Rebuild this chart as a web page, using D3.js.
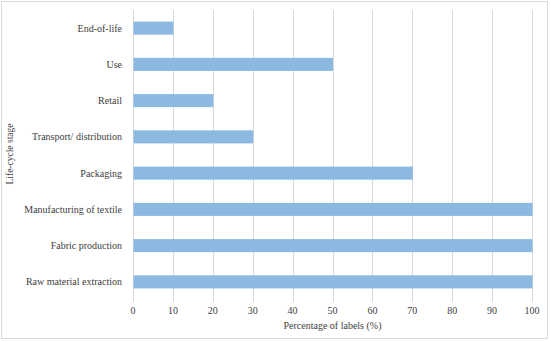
<!DOCTYPE html>
<html lang="en">

<head>
  <meta charset="UTF-8">
  <title>Life-cycle stage labels</title>
  <style>
    body { margin: 0; background: #fff; }
    text { font-family: "Liberation Serif", "DejaVu Serif", serif; fill: #404040; }
  </style>
</head>

<body>
  <svg id="svg" width="550" height="341"></svg>

  <script src="https://d3js.org/d3.v7.min.js"></script>
  <script>
    const stages = ['End-of-life', 'Use', 'Retail', 'Transport/ distribution', 'Packaging',
      'Manufacturing of textile', 'Fabric production', 'Raw material extraction']
    const percentages = [10, 50, 20, 30, 70, 100, 100, 100]
    const xTicks = [0, 10, 20, 30, 40, 50, 60, 70, 80, 90, 100]

    const svg = d3.select('#svg')

    // outer frame
    svg.append('rect')
      .attr('x', 1.5).attr('y', 1.5)
      .attr('width', 546).attr('height', 337)
      .attr('fill', '#fff')
      .attr('stroke', '#d9d9d9')

    const xScale = d3.scaleLinear()
      .domain([0, 100])
      .range([133, 532])

    const yScale = d3.scaleBand()
      .domain(stages)
      .range([10, 300])
      .paddingInner(0.64)
      .paddingOuter(0.32)

    // vertical gridlines
    svg.append('g')
      .selectAll('line')
      .data(xTicks)
      .enter()
      .append('line')
      .attr('x1', d => Math.round(xScale(d)) + 0.5)
      .attr('x2', d => Math.round(xScale(d)) + 0.5)
      .attr('y1', 10)
      .attr('y2', 302)
      .attr('stroke', '#d9d9d9')

    svg.append('g')
      .selectAll('rect')
      .data(percentages)
      .enter()
      .append('rect')
      .attr('x', xScale(0) + 0.5)
      .attr('y', (d, i) => yScale(stages[i]))
      .attr('width', d => xScale(d) - xScale(0))
      .attr('height', yScale.bandwidth())
      .attr('fill', '#8bb9e2')

    // x tick labels
    svg.append('g')
      .selectAll('text')
      .data(xTicks)
      .enter()
      .append('text')
      .attr('x', d => xScale(d))
      .attr('y', 314)
      .attr('text-anchor', 'middle')
      .style('font-size', '10px')
      .text(d => d)

    // category labels
    svg.append('g')
      .selectAll('text')
      .data(stages)
      .enter()
      .append('text')
      .attr('x', 122)
      .attr('y', d => yScale(d) + yScale.bandwidth() / 2)
      .attr('dy', '0.35em')
      .attr('text-anchor', 'end')
      .style('font-size', '10px')
      .text(d => d)

    svg.append('text')
      .attr('x', xScale(50))
      .attr('y', 329)
      .attr('text-anchor', 'middle')
      .style('font-size', '10px')
      .text('Percentage of labels (%)')

    svg.append('text')
      .attr('transform', 'translate(13,154) rotate(-90)')
      .attr('text-anchor', 'middle')
      .style('font-size', '9.5px')
      .text('Life-cycle stage')
  </script>
</body>

</html>
